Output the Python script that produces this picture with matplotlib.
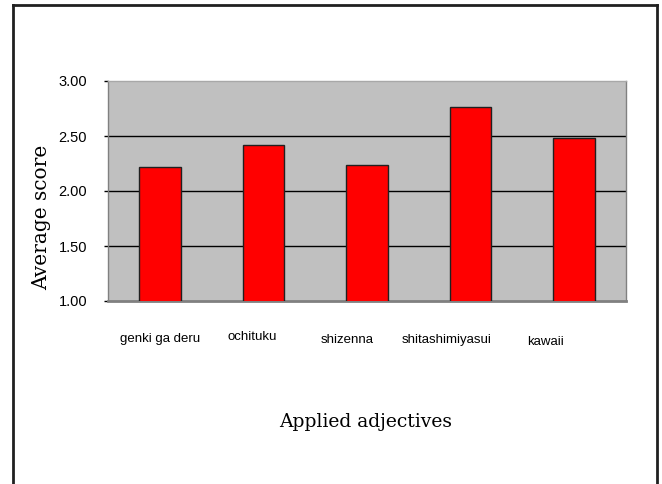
import matplotlib.pyplot as plt
import matplotlib.transforms as mtransforms
import numpy as np

categories = ['genki ga deru', 'ochituku', 'shizenna', 'shitashimiyasui', 'kawaii']
scores = [2.22, 2.42, 2.24, 2.76, 2.48]
yticks = [1.00, 1.50, 2.00, 2.50, 3.00]

# per-label nudges in pixels (dx, dy), the labels are not centred under bars
label_nudge = [(0, 0), (-11, 2), (-20, -1), (-24, -1), (-29, -3)]

fig = plt.figure(figsize=(6.62, 4.84), dpi=100)
ax = fig.add_axes([108/662, 1-301/484, 518/662, 220/484])
ax.set_facecolor('#c0c0c0')

x = np.arange(len(categories))
ax.bar(x, scores, width=0.4, color='#ff0000', edgecolor='#202020', lw=1, zorder=3)
ax.set_xlim(-0.5, len(categories)-0.5)
ax.set_ylim(1.0, 3.0)

ax.set_yticks(yticks)
ax.set_yticklabels(['%.2f' % v for v in yticks], fontfamily='Liberation Sans', fontsize=10.5)
for v in yticks[1:-1]:
    ax.axhline(v, color='black', lw=1, zorder=2)
ax.tick_params(axis='y', length=3, width=1, pad=12, color='black')

ax.set_xticks(x)
ax.set_xticklabels(categories, fontfamily=['Liberation Sans Narrow', 'Liberation Sans'], fontsize=9.5)
ax.tick_params(axis='x', length=0, pad=23)
for lab, (dx, dy) in zip(ax.get_xticklabels(), label_nudge):
    lab.set_transform(lab.get_transform() + mtransforms.ScaledTranslation(dx/100, dy/100, fig.dpi_scale_trans))

for s in ['left', 'right', 'top']:
    ax.spines[s].set_color('#808080')
    ax.spines[s].set_linewidth(1)
ax.spines['top'].set_color('#a8a8a8')
ax.spines['bottom'].set_color('#808080')
ax.spines['bottom'].set_linewidth(2)

fig.text(42/662, 1-217/484, 'Average score', rotation=90, ha='center', va='center',
         fontfamily='DejaVu Serif', fontsize=14.5)
fig.text(366/662, 1-422/484, 'Applied adjectives', ha='center', va='center',
         fontfamily='DejaVu Serif', fontsize=13.5)

# outer chart frame (bottom edge is cut off)
frame_kw = dict(color='#202020', lw=2, transform=fig.transFigure)
fig.add_artist(plt.Line2D([13/662, 13/662], [0, 1-5/484], **frame_kw))
fig.add_artist(plt.Line2D([657/662, 657/662], [0, 1-5/484], **frame_kw))
fig.add_artist(plt.Line2D([13/662, 657/662], [1-5/484, 1-5/484], **frame_kw))

fig.savefig('out.png', dpi=100)
